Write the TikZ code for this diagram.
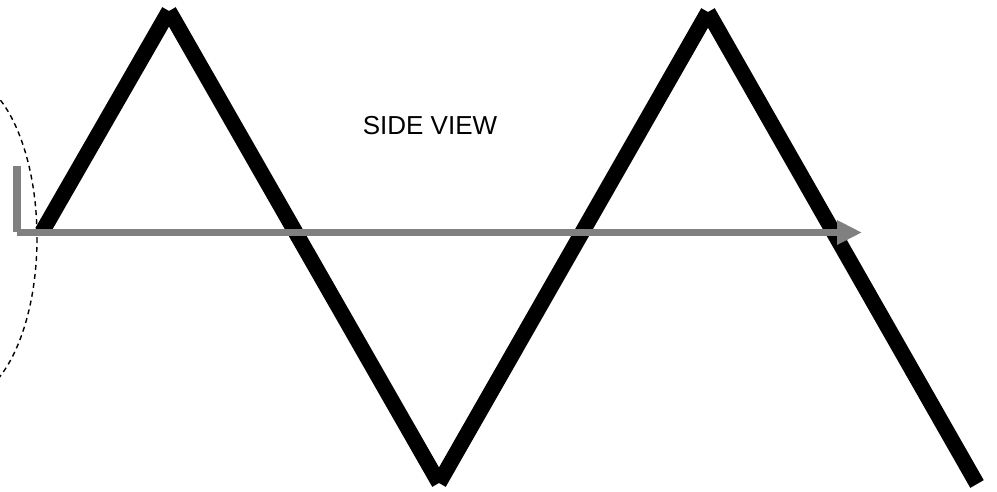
\documentclass[tikz,border=0pt]{standalone}
\usepackage{fontspec}
\setmainfont{Liberation Sans}
\usetikzlibrary{arrows.meta}
\definecolor{axisgray}{RGB}{128,128,128}
\tikzset{
  zig/.style={line width=15.5pt, line cap=butt, black},
  axisline/.style={line width=7.3pt, line cap=butt, axisgray},
  boundary/.style={line width=1.4pt, dash pattern=on 5pt off 4pt, black},
  lbl/.style={font=\fontsize{26}{31}\selectfont, inner sep=0pt}
}
\begin{document}
\begin{tikzpicture}[x=1pt,y=-1pt]
\useasboundingbox (0,0) rectangle (997,491);
\coordinate (s) at (42,232);
\coordinate (p1) at (169,11);
\coordinate (v1) at (439,483);
\coordinate (p2) at (708,12);
\coordinate (e) at (977,484);
\coordinate (ltop) at (17,166);
\coordinate (lcorner) at (17,232);
\coordinate (ax0) at (17,232.5);
\coordinate (ax1) at (862,232.5);
\begin{scope}
\clip (0,0) rectangle (997,491);
\draw[boundary] (-40,238) ellipse [x radius=77, y radius=162];
\end{scope}
\draw[zig] (s) -- (p1);
\draw[zig] (p1) -- (v1);
\draw[zig] (v1) -- (p2);
\draw[zig] (p2) -- (e);
\draw[axisline] (ltop) -- (lcorner);
\draw[axisline, -{Triangle[length=25pt,width=23pt]}] (ax0) -- (ax1);
\node[lbl] (title) at (430,126) {SIDE VIEW};
\end{tikzpicture}
\end{document}
